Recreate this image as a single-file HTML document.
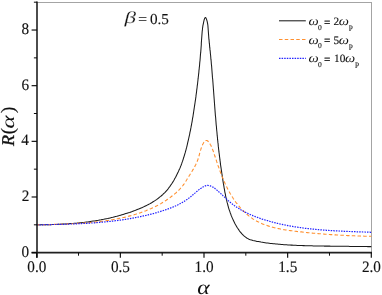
<!DOCTYPE html>
<html><head><meta charset="utf-8"><style>
html,body{margin:0;padding:0;background:#fff;}
body{width:382px;height:295px;overflow:hidden;}
svg{display:block;will-change:transform;}
text{font-family:"Liberation Serif",serif;fill:#111;text-rendering:geometricPrecision;stroke:#111;stroke-width:0.14;}
.i{font-style:italic;}
</style></head><body>
<svg width="382" height="295" viewBox="0 0 382 295">
<rect width="382" height="295" fill="#fff"/>
<g fill="none" stroke="#a4a4a4" stroke-width="1"><line x1="37" y1="2.5" x2="372" y2="2.5"/><line x1="371.5" y1="2.5" x2="371.5" y2="252.6"/></g>
<g fill="none" stroke-linejoin="round">
<path d="M36.7 224.8 L38.0 224.8 L39.4 224.8 L40.7 224.8 L42.1 224.7 L43.4 224.7 L44.8 224.7 L46.1 224.7 L47.5 224.7 L48.8 224.6 L50.2 224.6 L51.5 224.6 L52.9 224.5 L54.2 224.5 L55.6 224.4 L56.9 224.4 L58.3 224.3 L59.6 224.3 L61.0 224.2 L62.3 224.1 L63.7 224.1 L65.0 224.0 L66.3 223.9 L67.7 223.8 L69.0 223.7 L70.4 223.6 L71.7 223.5 L73.1 223.4 L74.4 223.3 L75.7 223.2 L77.1 223.1 L78.4 222.9 L79.7 222.8 L81.1 222.7 L82.4 222.5 L83.8 222.4 L85.1 222.2 L86.4 222.0 L87.8 221.9 L89.1 221.7 L90.4 221.5 L91.7 221.3 L93.1 221.1 L94.4 220.9 L95.7 220.7 L97.0 220.5 L98.4 220.3 L99.7 220.0 L101.0 219.8 L102.3 219.5 L103.6 219.3 L105.0 219.0 L106.3 218.7 L107.6 218.5 L108.9 218.2 L110.2 217.9 L111.5 217.6 L112.8 217.3 L114.1 216.9 L115.4 216.6 L116.7 216.3 L118.0 215.9 L119.3 215.6 L120.6 215.2 L121.9 214.8 L123.2 214.4 L124.5 214.0 L125.8 213.6 L127.1 213.2 L128.4 212.8 L129.7 212.4 L131.0 211.9 L132.2 211.5 L133.5 211.0 L134.8 210.6 L136.1 210.1 L137.3 209.6 L138.6 209.1 L139.9 208.5 L141.1 208.0 L142.4 207.5 L143.6 206.9 L144.8 206.3 L146.0 205.7 L147.2 205.1 L148.4 204.5 L149.6 203.9 L150.8 203.2 L152.0 202.5 L153.1 201.8 L154.2 201.1 L155.4 200.4 L156.5 199.6 L157.5 198.8 L158.6 198.0 L159.6 197.2 L160.7 196.4 L161.7 195.5 L162.7 194.6 L163.6 193.7 L164.6 192.8 L165.5 191.8 L166.4 190.8 L167.3 189.8 L168.1 188.8 L168.9 187.7 L169.8 186.6 L170.5 185.5 L171.3 184.4 L172.1 183.3 L172.8 182.1 L173.5 181.0 L174.2 179.8 L174.8 178.6 L175.5 177.4 L176.1 176.2 L176.7 175.0 L177.3 173.8 L177.9 172.6 L178.5 171.4 L179.0 170.1 L179.6 168.9 L180.1 167.7 L180.6 166.4 L181.1 165.2 L181.6 163.9 L182.0 162.6 L182.5 161.4 L182.9 160.1 L183.3 158.8 L183.7 157.5 L184.1 156.3 L184.5 155.0 L184.9 153.7 L185.3 152.4 L185.6 151.1 L186.0 149.8 L186.3 148.5 L186.7 147.2 L187.0 145.9 L187.3 144.6 L187.6 143.2 L187.9 141.9 L188.2 140.6 L188.5 139.3 L188.8 138.0 L189.1 136.7 L189.4 135.4 L189.7 134.0 L189.9 132.7 L190.2 131.4 L190.5 130.1 L190.7 128.8 L191.0 127.4 L191.2 126.1 L191.5 124.8 L191.7 123.5 L192.0 122.1 L192.2 120.8 L192.4 119.5 L192.6 118.2 L192.9 116.8 L193.1 115.5 L193.3 114.2 L193.5 112.9 L193.7 111.5 L193.9 110.2 L194.1 108.9 L194.3 107.5 L194.5 106.2 L194.7 104.9 L194.9 103.6 L195.1 102.2 L195.3 100.9 L195.5 99.6 L195.7 98.2 L195.9 96.9 L196.0 95.6 L196.2 94.2 L196.4 92.9 L196.6 91.5 L196.7 90.2 L196.9 88.9 L197.1 87.5 L197.2 86.2 L197.4 84.9 L197.6 83.5 L197.7 82.2 L197.9 80.8 L198.0 79.5 L198.2 78.2 L198.3 76.8 L198.5 75.5 L198.6 74.1 L198.8 72.8 L198.9 71.5 L199.0 70.1 L199.2 68.8 L199.3 67.4 L199.5 66.1 L199.6 64.8 L199.7 63.4 L199.8 62.1 L200.0 60.7 L200.1 59.4 L200.2 58.1 L200.3 56.7 L200.4 55.4 L200.5 54.0 L200.7 52.7 L200.8 51.4 L200.9 50.0 L201.0 48.7 L201.1 47.3 L201.2 46.0 L201.3 44.7 L201.3 43.3 L201.4 42.0 L201.5 40.7 L201.6 39.3 L201.7 38.0 L201.8 36.7 L201.9 35.3 L202.0 34.0 L202.1 32.6 L202.2 31.3 L202.4 29.9 L202.5 28.5 L202.7 27.1 L202.9 25.7 L203.2 24.3 L203.5 22.9 L203.8 21.4 L204.1 20.0 L204.5 18.8 L204.9 17.9 L205.3 17.5 L205.8 17.8 L206.2 18.6 L206.7 19.8 L207.1 21.2 L207.4 22.6 L207.7 24.1 L207.9 25.5 L208.0 26.9 L208.1 28.3 L208.2 29.7 L208.3 31.0 L208.4 32.4 L208.5 33.8 L208.6 35.1 L208.7 36.5 L208.8 37.9 L208.9 39.2 L209.1 40.5 L209.2 41.9 L209.3 43.2 L209.5 44.5 L209.6 45.9 L209.7 47.2 L209.9 48.5 L210.0 49.9 L210.2 51.2 L210.3 52.5 L210.4 53.8 L210.6 55.2 L210.7 56.5 L210.8 57.8 L210.9 59.2 L211.1 60.5 L211.2 61.8 L211.3 63.2 L211.4 64.5 L211.6 65.9 L211.7 67.2 L211.8 68.5 L211.9 69.9 L212.0 71.2 L212.1 72.6 L212.2 73.9 L212.3 75.3 L212.4 76.6 L212.5 77.9 L212.7 79.3 L212.8 80.6 L212.9 82.0 L213.0 83.3 L213.1 84.7 L213.2 86.0 L213.3 87.4 L213.4 88.7 L213.5 90.1 L213.6 91.4 L213.7 92.8 L213.8 94.1 L213.9 95.5 L214.0 96.8 L214.1 98.2 L214.2 99.5 L214.3 100.8 L214.4 102.2 L214.5 103.5 L214.6 104.9 L214.7 106.2 L214.8 107.6 L214.9 108.9 L215.0 110.3 L215.1 111.6 L215.2 112.9 L215.3 114.3 L215.4 115.6 L215.6 117.0 L215.7 118.3 L215.8 119.6 L215.9 121.0 L216.0 122.3 L216.1 123.6 L216.2 125.0 L216.4 126.3 L216.5 127.7 L216.6 129.0 L216.7 130.3 L216.9 131.7 L217.0 133.0 L217.1 134.3 L217.2 135.7 L217.4 137.0 L217.5 138.4 L217.6 139.7 L217.8 141.0 L217.9 142.4 L218.1 143.7 L218.2 145.0 L218.3 146.4 L218.5 147.7 L218.6 149.0 L218.8 150.4 L218.9 151.7 L219.1 153.0 L219.3 154.4 L219.4 155.7 L219.6 157.0 L219.8 158.4 L219.9 159.7 L220.1 161.0 L220.3 162.4 L220.4 163.7 L220.6 165.0 L220.8 166.4 L221.0 167.7 L221.2 169.0 L221.4 170.4 L221.6 171.7 L221.8 173.1 L222.0 174.4 L222.2 175.7 L222.4 177.1 L222.6 178.4 L222.8 179.7 L223.0 181.1 L223.2 182.4 L223.4 183.7 L223.7 185.1 L223.9 186.4 L224.1 187.8 L224.4 189.1 L224.6 190.4 L224.8 191.8 L225.1 193.1 L225.4 194.4 L225.6 195.8 L225.9 197.1 L226.2 198.4 L226.5 199.7 L226.8 201.0 L227.1 202.4 L227.5 203.7 L227.8 205.0 L228.2 206.3 L228.5 207.6 L228.9 208.8 L229.3 210.1 L229.8 211.4 L230.2 212.7 L230.7 213.9 L231.1 215.2 L231.6 216.4 L232.1 217.6 L232.7 218.9 L233.2 220.1 L233.8 221.3 L234.4 222.5 L235.0 223.7 L235.6 224.8 L236.3 226.0 L237.0 227.2 L237.7 228.3 L238.5 229.4 L239.2 230.5 L240.0 231.6 L240.9 232.7 L241.7 233.7 L242.7 234.7 L243.6 235.6 L244.6 236.4 L245.6 237.2 L246.7 238.0 L247.9 238.6 L249.0 239.2 L250.3 239.7 L251.6 240.1 L252.9 240.5 L254.2 240.8 L255.6 241.1 L256.9 241.4 L258.3 241.6 L259.7 241.8 L261.0 242.1 L262.4 242.3 L263.7 242.5 L265.1 242.7 L266.4 242.9 L267.8 243.0 L269.1 243.2 L270.5 243.4 L271.8 243.5 L273.2 243.7 L274.5 243.8 L275.9 244.0 L277.2 244.1 L278.6 244.2 L279.9 244.3 L281.2 244.5 L282.6 244.6 L283.9 244.7 L285.2 244.7 L286.6 244.8 L287.9 244.9 L289.3 245.0 L290.6 245.1 L291.9 245.1 L293.3 245.2 L294.6 245.3 L295.9 245.3 L297.3 245.4 L298.6 245.4 L299.9 245.5 L301.3 245.5 L302.6 245.6 L303.9 245.6 L305.3 245.7 L306.6 245.7 L308.0 245.7 L309.3 245.8 L310.6 245.8 L312.0 245.8 L313.3 245.9 L314.7 245.9 L316.0 245.9 L317.4 245.9 L318.7 246.0 L320.1 246.0 L321.4 246.0 L322.8 246.0 L324.1 246.1 L325.5 246.1 L326.8 246.1 L328.2 246.1 L329.5 246.1 L330.9 246.2 L332.2 246.2 L333.6 246.2 L334.9 246.2 L336.3 246.2 L337.6 246.2 L339.0 246.3 L340.3 246.3 L341.7 246.3 L343.1 246.3 L344.4 246.3 L345.8 246.3 L347.1 246.3 L348.5 246.3 L349.8 246.4 L351.2 246.4 L352.5 246.4 L353.9 246.4 L355.2 246.4 L356.5 246.4 L357.9 246.4 L359.2 246.5 L360.6 246.5 L361.9 246.5 L363.3 246.5 L364.6 246.5 L365.9 246.5 L367.3 246.6 L368.6 246.6 L370.0 246.6 L371.3 246.6" stroke="#1a1a1a" stroke-width="1.05"/>
<path d="M36.7 224.9 L37.5 224.9 L38.4 224.9 L39.2 224.8 L40.1 224.8 L40.9 224.8 L41.8 224.8 L42.6 224.7 L43.5 224.7 L44.3 224.7 L45.1 224.7 L46.0 224.6 L46.8 224.6 L47.7 224.6 L48.5 224.6 L49.4 224.5 L50.2 224.5 L51.1 224.5 L51.9 224.5 L52.8 224.4 L53.6 224.4 L54.4 224.4 L55.3 224.4 L56.1 224.3 L57.0 224.3 L57.8 224.3 L58.7 224.3 L59.5 224.2 L60.4 224.2 L61.2 224.2 L62.1 224.2 L62.9 224.1 L63.8 224.1 L64.6 224.1 L65.4 224.0 L66.3 224.0 L67.1 224.0 L68.0 223.9 L68.8 223.9 L69.7 223.9 L70.5 223.8 L71.4 223.8 L72.2 223.7 L73.0 223.7 L73.9 223.7 L74.7 223.6 L75.6 223.6 L76.4 223.5 L77.3 223.5 L78.1 223.4 L79.0 223.4 L79.8 223.3 L80.6 223.3 L81.5 223.2 L82.3 223.2 L83.2 223.1 L84.0 223.0 L84.9 223.0 L85.7 222.9 L86.5 222.9 L87.4 222.8 L88.2 222.7 L89.1 222.6 L89.9 222.6 L90.8 222.5 L91.6 222.4 L92.4 222.3 L93.3 222.3 L94.1 222.2 L95.0 222.1 L95.8 222.0 L96.6 221.9 L97.5 221.8 L98.3 221.7 L99.2 221.6 L100.0 221.5 L100.8 221.4 L101.7 221.3 L102.5 221.2 L103.3 221.1 L104.2 221.0 L105.0 220.9 L105.8 220.7 L106.7 220.6 L107.5 220.5 L108.4 220.4 L109.2 220.2 L110.0 220.1 L110.9 220.0 L111.7 219.8 L112.5 219.7 L113.4 219.5 L114.2 219.4 L115.0 219.2 L115.9 219.1 L116.7 218.9 L117.5 218.8 L118.4 218.6 L119.2 218.4 L120.0 218.3 L120.8 218.1 L121.7 217.9 L122.5 217.7 L123.3 217.5 L124.2 217.4 L125.0 217.2 L125.8 217.0 L126.6 216.8 L127.5 216.6 L128.3 216.3 L129.1 216.1 L129.9 215.9 L130.7 215.7 L131.6 215.5 L132.4 215.2 L133.2 215.0 L134.0 214.8 L134.8 214.5 L135.6 214.3 L136.4 214.0 L137.2 213.8 L138.1 213.5 L138.9 213.3 L139.7 213.0 L140.5 212.7 L141.3 212.4 L142.1 212.1 L142.9 211.9 L143.6 211.6 L144.4 211.3 L145.2 211.0 L146.0 210.7 L146.8 210.3 L147.6 210.0 L148.4 209.7 L149.1 209.4 L149.9 209.0 L150.7 208.7 L151.5 208.4 L152.2 208.0 L153.0 207.7 L153.7 207.3 L154.5 206.9 L155.3 206.6 L156.0 206.2 L156.8 205.8 L157.5 205.4 L158.3 205.0 L159.0 204.6 L159.7 204.2 L160.5 203.8 L161.2 203.4 L161.9 202.9 L162.6 202.5 L163.4 202.1 L164.1 201.6 L164.8 201.2 L165.5 200.7 L166.2 200.3 L166.9 199.8 L167.6 199.3 L168.3 198.8 L169.0 198.3 L169.7 197.9 L170.4 197.4 L171.0 196.8 L171.7 196.3 L172.4 195.8 L173.1 195.3 L173.7 194.7 L174.4 194.2 L175.0 193.6 L175.7 193.1 L176.3 192.5 L176.9 192.0 L177.5 191.4 L178.2 190.8 L178.8 190.2 L179.4 189.6 L179.9 189.0 L180.5 188.3 L181.1 187.7 L181.6 187.1 L182.1 186.4 L182.7 185.8 L183.2 185.1 L183.7 184.4 L184.2 183.8 L184.6 183.1 L185.1 182.4 L185.5 181.7 L186.0 181.0 L186.4 180.3 L186.9 179.5 L187.3 178.8 L187.8 178.1 L188.2 177.4 L188.7 176.6 L189.1 175.9 L189.6 175.2 L190.0 174.5 L190.5 173.7 L190.9 173.0 L191.4 172.3 L191.8 171.6 L192.3 170.8 L192.7 170.1 L193.2 169.4 L193.6 168.6 L194.0 167.9 L194.4 167.1 L194.9 166.4 L195.2 165.6 L195.6 164.9 L196.0 164.1 L196.4 163.4 L196.7 162.6 L197.0 161.8 L197.3 161.1 L197.6 160.3 L197.9 159.5 L198.1 158.8 L198.4 158.0 L198.6 157.2 L198.8 156.4 L199.1 155.6 L199.3 154.8 L199.5 154.0 L199.7 153.2 L199.9 152.4 L200.2 151.5 L200.4 150.7 L200.7 149.9 L200.9 149.1 L201.2 148.2 L201.5 147.4 L201.8 146.5 L202.2 145.7 L202.5 144.8 L202.9 144.0 L203.4 143.2 L203.8 142.4 L204.3 141.7 L204.8 141.2 L205.4 140.7 L206.0 140.5 L206.6 140.5 L207.2 140.6 L207.7 141.0 L208.3 141.5 L208.9 142.2 L209.4 142.9 L209.9 143.7 L210.3 144.5 L210.8 145.3 L211.2 146.1 L211.5 146.9 L211.9 147.7 L212.2 148.5 L212.5 149.3 L212.8 150.0 L213.1 150.8 L213.4 151.6 L213.6 152.4 L213.9 153.2 L214.1 154.0 L214.4 154.8 L214.7 155.5 L214.9 156.3 L215.2 157.1 L215.5 157.9 L215.7 158.7 L216.0 159.5 L216.3 160.3 L216.6 161.1 L216.8 161.9 L217.1 162.7 L217.4 163.5 L217.7 164.4 L217.9 165.2 L218.2 166.0 L218.5 166.8 L218.8 167.6 L219.1 168.4 L219.4 169.2 L219.6 170.0 L219.9 170.8 L220.2 171.6 L220.5 172.4 L220.8 173.2 L221.1 174.0 L221.4 174.8 L221.8 175.6 L222.1 176.4 L222.4 177.1 L222.7 177.9 L223.0 178.7 L223.3 179.5 L223.7 180.3 L224.0 181.0 L224.3 181.8 L224.7 182.6 L225.0 183.4 L225.4 184.1 L225.7 184.9 L226.1 185.6 L226.4 186.4 L226.8 187.1 L227.2 187.9 L227.5 188.6 L227.9 189.4 L228.3 190.1 L228.7 190.8 L229.1 191.6 L229.5 192.3 L229.9 193.0 L230.3 193.7 L230.8 194.5 L231.2 195.2 L231.6 195.9 L232.1 196.6 L232.5 197.3 L233.0 198.0 L233.4 198.7 L233.9 199.4 L234.4 200.1 L234.8 200.8 L235.3 201.5 L235.8 202.2 L236.3 202.9 L236.9 203.5 L237.4 204.2 L237.9 204.9 L238.5 205.6 L239.0 206.2 L239.6 206.9 L240.1 207.5 L240.7 208.2 L241.3 208.8 L241.9 209.5 L242.5 210.1 L243.1 210.7 L243.7 211.3 L244.3 211.9 L244.9 212.5 L245.6 213.1 L246.2 213.7 L246.8 214.3 L247.5 214.8 L248.2 215.4 L248.8 215.9 L249.5 216.4 L250.2 216.9 L250.9 217.4 L251.5 217.9 L252.2 218.4 L252.9 218.9 L253.6 219.3 L254.4 219.7 L255.1 220.2 L255.8 220.6 L256.5 221.0 L257.3 221.4 L258.0 221.8 L258.7 222.1 L259.5 222.5 L260.2 222.9 L261.0 223.2 L261.8 223.5 L262.5 223.9 L263.3 224.2 L264.1 224.5 L264.8 224.8 L265.6 225.1 L266.4 225.3 L267.2 225.6 L268.0 225.9 L268.8 226.1 L269.6 226.4 L270.4 226.6 L271.2 226.8 L272.0 227.1 L272.8 227.3 L273.6 227.5 L274.4 227.7 L275.3 227.9 L276.1 228.1 L276.9 228.3 L277.7 228.5 L278.6 228.6 L279.4 228.8 L280.2 229.0 L281.1 229.1 L281.9 229.3 L282.7 229.4 L283.6 229.6 L284.4 229.7 L285.3 229.9 L286.1 230.0 L286.9 230.1 L287.8 230.3 L288.6 230.4 L289.5 230.5 L290.3 230.6 L291.2 230.7 L292.0 230.8 L292.9 231.0 L293.7 231.1 L294.6 231.2 L295.4 231.3 L296.3 231.4 L297.1 231.5 L298.0 231.6 L298.8 231.7 L299.6 231.8 L300.5 231.9 L301.3 231.9 L302.2 232.0 L303.0 232.1 L303.9 232.2 L304.7 232.3 L305.6 232.4 L306.4 232.5 L307.2 232.6 L308.1 232.7 L308.9 232.7 L309.8 232.8 L310.6 232.9 L311.5 233.0 L312.3 233.1 L313.1 233.2 L314.0 233.2 L314.8 233.3 L315.7 233.4 L316.5 233.5 L317.3 233.5 L318.2 233.6 L319.0 233.7 L319.9 233.7 L320.7 233.8 L321.5 233.9 L322.4 234.0 L323.2 234.0 L324.1 234.1 L324.9 234.2 L325.7 234.2 L326.6 234.3 L327.4 234.3 L328.3 234.4 L329.1 234.5 L329.9 234.5 L330.8 234.6 L331.6 234.6 L332.4 234.7 L333.3 234.8 L334.1 234.8 L335.0 234.9 L335.8 234.9 L336.6 235.0 L337.5 235.0 L338.3 235.1 L339.2 235.1 L340.0 235.2 L340.8 235.2 L341.7 235.3 L342.5 235.3 L343.4 235.3 L344.2 235.4 L345.0 235.4 L345.9 235.5 L346.7 235.5 L347.6 235.6 L348.4 235.6 L349.3 235.6 L350.1 235.7 L350.9 235.7 L351.8 235.7 L352.6 235.8 L353.5 235.8 L354.3 235.8 L355.2 235.9 L356.0 235.9 L356.9 235.9 L357.7 236.0 L358.6 236.0 L359.4 236.0 L360.3 236.0 L361.1 236.1 L361.9 236.1 L362.8 236.1 L363.6 236.1 L364.5 236.2 L365.4 236.2 L366.2 236.2 L367.1 236.2 L367.9 236.2 L368.8 236.3 L369.6 236.3 L370.5 236.3 L371.3 236.3" stroke="#ff9030" stroke-width="1.1" stroke-dasharray="3.5 2.25"/>
<path d="M36.7 224.9 L37.4 224.9 L38.1 224.9 L38.8 224.8 L39.6 224.8 L40.3 224.8 L41.0 224.8 L41.7 224.8 L42.4 224.8 L43.1 224.7 L43.8 224.7 L44.5 224.7 L45.2 224.7 L45.9 224.7 L46.6 224.7 L47.4 224.7 L48.1 224.6 L48.8 224.6 L49.5 224.6 L50.2 224.6 L50.9 224.6 L51.6 224.6 L52.3 224.5 L53.0 224.5 L53.7 224.5 L54.5 224.5 L55.2 224.5 L55.9 224.5 L56.6 224.4 L57.3 224.4 L58.0 224.4 L58.7 224.4 L59.4 224.4 L60.1 224.4 L60.9 224.3 L61.6 224.3 L62.3 224.3 L63.0 224.3 L63.7 224.3 L64.4 224.2 L65.1 224.2 L65.8 224.2 L66.5 224.2 L67.3 224.1 L68.0 224.1 L68.7 224.1 L69.4 224.1 L70.1 224.1 L70.8 224.0 L71.5 224.0 L72.2 224.0 L73.0 223.9 L73.7 223.9 L74.4 223.9 L75.1 223.9 L75.8 223.8 L76.5 223.8 L77.2 223.8 L77.9 223.7 L78.7 223.7 L79.4 223.7 L80.1 223.6 L80.8 223.6 L81.5 223.6 L82.2 223.5 L82.9 223.5 L83.6 223.5 L84.3 223.4 L85.1 223.4 L85.8 223.3 L86.5 223.3 L87.2 223.3 L87.9 223.2 L88.6 223.2 L89.3 223.1 L90.0 223.1 L90.7 223.0 L91.5 223.0 L92.2 223.0 L92.9 222.9 L93.6 222.9 L94.3 222.8 L95.0 222.8 L95.7 222.7 L96.4 222.6 L97.1 222.6 L97.8 222.5 L98.6 222.5 L99.3 222.4 L100.0 222.4 L100.7 222.3 L101.4 222.2 L102.1 222.2 L102.8 222.1 L103.5 222.0 L104.2 222.0 L104.9 221.9 L105.6 221.8 L106.4 221.8 L107.1 221.7 L107.8 221.6 L108.5 221.6 L109.2 221.5 L109.9 221.4 L110.6 221.3 L111.3 221.2 L112.0 221.2 L112.7 221.1 L113.4 221.0 L114.1 220.9 L114.8 220.8 L115.5 220.7 L116.2 220.7 L116.9 220.6 L117.6 220.5 L118.4 220.4 L119.1 220.3 L119.8 220.2 L120.5 220.1 L121.2 220.0 L121.9 219.9 L122.6 219.8 L123.3 219.7 L124.0 219.6 L124.7 219.5 L125.4 219.4 L126.1 219.3 L126.8 219.2 L127.5 219.0 L128.2 218.9 L128.9 218.8 L129.6 218.7 L130.3 218.6 L131.0 218.4 L131.7 218.3 L132.4 218.2 L133.1 218.1 L133.8 217.9 L134.5 217.8 L135.2 217.7 L135.9 217.5 L136.6 217.4 L137.3 217.3 L138.0 217.1 L138.6 217.0 L139.3 216.8 L140.0 216.7 L140.7 216.6 L141.4 216.4 L142.1 216.3 L142.8 216.1 L143.5 215.9 L144.2 215.8 L144.9 215.6 L145.6 215.5 L146.3 215.3 L147.0 215.1 L147.7 215.0 L148.3 214.8 L149.0 214.6 L149.7 214.5 L150.4 214.3 L151.1 214.1 L151.8 213.9 L152.5 213.7 L153.2 213.6 L153.9 213.4 L154.5 213.2 L155.2 213.0 L155.9 212.8 L156.6 212.6 L157.3 212.4 L158.0 212.2 L158.6 212.0 L159.3 211.8 L160.0 211.6 L160.7 211.4 L161.4 211.2 L162.1 211.0 L162.7 210.8 L163.4 210.5 L164.1 210.3 L164.8 210.1 L165.4 209.9 L166.1 209.6 L166.8 209.4 L167.5 209.2 L168.1 208.9 L168.8 208.7 L169.5 208.4 L170.1 208.2 L170.8 207.9 L171.5 207.6 L172.1 207.4 L172.8 207.1 L173.4 206.8 L174.1 206.6 L174.7 206.3 L175.4 206.0 L176.0 205.7 L176.7 205.4 L177.3 205.1 L178.0 204.8 L178.6 204.5 L179.2 204.1 L179.8 203.8 L180.5 203.5 L181.1 203.1 L181.7 202.8 L182.3 202.4 L182.9 202.1 L183.5 201.7 L184.1 201.4 L184.7 201.0 L185.3 200.6 L185.9 200.2 L186.5 199.8 L187.1 199.4 L187.7 199.0 L188.3 198.6 L188.8 198.1 L189.4 197.7 L189.9 197.3 L190.5 196.8 L191.1 196.4 L191.6 195.9 L192.2 195.4 L192.7 195.0 L193.2 194.5 L193.8 194.0 L194.3 193.6 L194.9 193.1 L195.4 192.6 L196.0 192.1 L196.5 191.7 L197.1 191.2 L197.6 190.8 L198.2 190.3 L198.7 189.9 L199.3 189.4 L199.9 189.0 L200.5 188.6 L201.1 188.2 L201.7 187.7 L202.3 187.4 L202.9 187.0 L203.5 186.7 L204.1 186.3 L204.8 186.1 L205.4 185.8 L206.0 185.7 L206.6 185.5 L207.3 185.4 L207.9 185.4 L208.5 185.5 L209.2 185.6 L209.8 185.7 L210.4 185.9 L211.0 186.2 L211.7 186.4 L212.3 186.8 L212.9 187.1 L213.5 187.5 L214.1 187.9 L214.7 188.3 L215.3 188.8 L215.9 189.2 L216.5 189.7 L217.0 190.2 L217.6 190.7 L218.2 191.2 L218.7 191.7 L219.3 192.2 L219.8 192.7 L220.4 193.2 L220.9 193.7 L221.5 194.2 L222.0 194.7 L222.5 195.2 L223.0 195.7 L223.6 196.2 L224.1 196.7 L224.6 197.2 L225.1 197.7 L225.6 198.2 L226.2 198.7 L226.7 199.2 L227.2 199.7 L227.7 200.2 L228.2 200.6 L228.8 201.1 L229.3 201.6 L229.8 202.0 L230.4 202.5 L230.9 202.9 L231.4 203.4 L232.0 203.8 L232.5 204.2 L233.1 204.7 L233.7 205.1 L234.2 205.5 L234.8 205.9 L235.4 206.3 L235.9 206.7 L236.5 207.1 L237.1 207.5 L237.7 207.9 L238.3 208.2 L238.9 208.6 L239.5 209.0 L240.1 209.3 L240.7 209.7 L241.3 210.1 L241.9 210.4 L242.6 210.7 L243.2 211.1 L243.8 211.4 L244.4 211.7 L245.1 212.1 L245.7 212.4 L246.3 212.7 L247.0 213.0 L247.6 213.3 L248.2 213.6 L248.9 213.9 L249.5 214.2 L250.2 214.5 L250.8 214.8 L251.5 215.1 L252.2 215.3 L252.8 215.6 L253.5 215.9 L254.1 216.1 L254.8 216.4 L255.5 216.7 L256.1 216.9 L256.8 217.2 L257.5 217.4 L258.2 217.7 L258.8 217.9 L259.5 218.1 L260.2 218.4 L260.9 218.6 L261.5 218.8 L262.2 219.1 L262.9 219.3 L263.6 219.5 L264.3 219.7 L264.9 219.9 L265.6 220.1 L266.3 220.3 L267.0 220.5 L267.7 220.7 L268.4 220.9 L269.1 221.1 L269.7 221.3 L270.4 221.5 L271.1 221.7 L271.8 221.9 L272.5 222.1 L273.2 222.3 L273.9 222.5 L274.6 222.6 L275.3 222.8 L275.9 223.0 L276.6 223.1 L277.3 223.3 L278.0 223.5 L278.7 223.6 L279.4 223.8 L280.1 224.0 L280.8 224.1 L281.5 224.3 L282.2 224.4 L282.9 224.6 L283.6 224.7 L284.3 224.9 L285.0 225.0 L285.7 225.1 L286.4 225.3 L287.1 225.4 L287.7 225.6 L288.4 225.7 L289.1 225.8 L289.8 225.9 L290.5 226.1 L291.2 226.2 L291.9 226.3 L292.6 226.4 L293.3 226.6 L294.0 226.7 L294.7 226.8 L295.4 226.9 L296.1 227.0 L296.8 227.1 L297.5 227.2 L298.2 227.3 L298.9 227.4 L299.7 227.5 L300.4 227.6 L301.1 227.7 L301.8 227.8 L302.5 227.9 L303.2 228.0 L303.9 228.1 L304.6 228.2 L305.3 228.3 L306.0 228.4 L306.7 228.5 L307.4 228.5 L308.1 228.6 L308.8 228.7 L309.5 228.8 L310.2 228.9 L310.9 228.9 L311.6 229.0 L312.3 229.1 L313.1 229.2 L313.8 229.2 L314.5 229.3 L315.2 229.4 L315.9 229.4 L316.6 229.5 L317.3 229.6 L318.0 229.6 L318.7 229.7 L319.4 229.8 L320.1 229.8 L320.8 229.9 L321.6 229.9 L322.3 230.0 L323.0 230.0 L323.7 230.1 L324.4 230.1 L325.1 230.2 L325.8 230.2 L326.5 230.3 L327.2 230.3 L327.9 230.4 L328.7 230.4 L329.4 230.5 L330.1 230.5 L330.8 230.6 L331.5 230.6 L332.2 230.7 L332.9 230.7 L333.6 230.7 L334.3 230.8 L335.0 230.8 L335.8 230.9 L336.5 230.9 L337.2 230.9 L337.9 231.0 L338.6 231.0 L339.3 231.0 L340.0 231.1 L340.7 231.1 L341.5 231.1 L342.2 231.2 L342.9 231.2 L343.6 231.2 L344.3 231.3 L345.0 231.3 L345.7 231.3 L346.4 231.4 L347.1 231.4 L347.9 231.4 L348.6 231.5 L349.3 231.5 L350.0 231.5 L350.7 231.5 L351.4 231.6 L352.1 231.6 L352.8 231.6 L353.5 231.6 L354.3 231.7 L355.0 231.7 L355.7 231.7 L356.4 231.7 L357.1 231.8 L357.8 231.8 L358.5 231.8 L359.2 231.8 L359.9 231.9 L360.7 231.9 L361.4 231.9 L362.1 231.9 L362.8 232.0 L363.5 232.0 L364.2 232.0 L364.9 232.0 L365.6 232.1 L366.3 232.1 L367.0 232.1 L367.7 232.1 L368.5 232.2 L369.2 232.2 L369.9 232.2 L370.6 232.3 L371.3 232.3" stroke="#2222ff" stroke-width="1.2" stroke-dasharray="1.5 1.1"/>
</g>
<g stroke="#202020" stroke-width="1.6" fill="none">
<line x1="37.00" y1="1.5" x2="37.00" y2="257.8"/>
<line x1="31.6" y1="252.65" x2="372" y2="252.65"/>
</g>
<g stroke="#0a0a0a" stroke-width="1.15" fill="none"><line x1="36.70" y1="252.65" x2="36.70" y2="257.80"/><line x1="120.35" y1="252.65" x2="120.35" y2="257.80"/><line x1="204.00" y1="252.65" x2="204.00" y2="257.80"/><line x1="287.65" y1="252.65" x2="287.65" y2="257.80"/><line x1="371.30" y1="252.65" x2="371.30" y2="257.80"/><line x1="31.60" y1="252.65" x2="37.00" y2="252.65"/><line x1="31.60" y1="196.99" x2="37.00" y2="196.99"/><line x1="31.60" y1="141.34" x2="37.00" y2="141.34"/><line x1="31.60" y1="85.68" x2="37.00" y2="85.68"/><line x1="31.60" y1="30.03" x2="37.00" y2="30.03"/></g>
<g stroke="#0a0a0a" stroke-width="1.0" fill="none"><line x1="78.53" y1="252.65" x2="78.53" y2="255.70"/><line x1="162.18" y1="252.65" x2="162.18" y2="255.70"/><line x1="245.82" y1="252.65" x2="245.82" y2="255.70"/><line x1="329.48" y1="252.65" x2="329.48" y2="255.70"/><line x1="33.90" y1="224.82" x2="37.00" y2="224.82"/><line x1="33.90" y1="169.17" x2="37.00" y2="169.17"/><line x1="33.90" y1="113.51" x2="37.00" y2="113.51"/><line x1="33.90" y1="57.86" x2="37.00" y2="57.86"/><line x1="33.90" y1="2.20" x2="37.00" y2="2.20"/></g>
<text transform="translate(36.80,272.2) scale(0.95,1)" font-size="16" text-anchor="middle">0.0</text><text transform="translate(120.45,272.2) scale(0.95,1)" font-size="16" text-anchor="middle">0.5</text><text transform="translate(204.10,272.2) scale(0.95,1)" font-size="16" text-anchor="middle">1.0</text><text transform="translate(287.75,272.2) scale(0.95,1)" font-size="16" text-anchor="middle">1.5</text><text transform="translate(371.40,272.2) scale(0.95,1)" font-size="16" text-anchor="middle">2.0</text><text transform="translate(21.58,256.55) scale(0.950,1)" font-size="16.00">0</text><text transform="translate(21.84,200.89) scale(0.950,1)" font-size="16.00">2</text><text transform="translate(21.24,145.24) scale(0.950,1)" font-size="16.00">4</text><text transform="translate(21.45,89.58) scale(0.950,1)" font-size="16.00">6</text><text transform="translate(21.58,33.93) scale(0.950,1)" font-size="16.00">8</text><text transform="translate(124.57,23.40) scale(1.380,1)" font-size="16.80" class="i" style="stroke:#fff;stroke-width:0.14">β</text><text transform="translate(137.98,23.90) scale(1.080,1)" font-size="15.20" style="stroke:none">=</text><text x="149.92" y="23.80" font-size="15.20">0.5</text><text transform="translate(197.30,293.90) scale(1.170,1)" font-size="20.20" class="i" style="stroke:none">α</text><g transform="translate(13.8,146.2) rotate(-90)"><text x="0.10" y="0.00" font-size="18.00" class="i" style="stroke-width:0.3">R</text><text x="11.87" y="0.00" font-size="19.00">(</text><text transform="translate(17.34,0.00) scale(1.400,1)" font-size="18.20" class="i" style="stroke:#fff;stroke-width:0.06">α</text><text x="33.09" y="0.00" font-size="19.00">)</text></g>
<g fill="none"><line x1="279" y1="20.80" x2="305.8" y2="20.80" stroke="#1a1a1a" stroke-width="1.05"/><text transform="translate(308.62,25.10) scale(1.150,1)" font-size="12.50" class="i" style="stroke:none">ω</text><text x="318.01" y="29.70" font-size="7.50">0</text><text x="324.04" y="26.00" font-size="11.30">=</text><text x="333.60" y="25.10" font-size="11.30">2</text><text transform="translate(338.72,25.10) scale(1.150,1)" font-size="12.50" class="i" style="stroke:none">ω</text><text x="349.08" y="29.30" font-size="7.50">p</text><line x1="279" y1="39.50" x2="305.8" y2="39.50" stroke="#ff9030" stroke-width="1.10" stroke-dasharray="3.5 2.25"/><text transform="translate(308.62,43.50) scale(1.150,1)" font-size="12.50" class="i" style="stroke:none">ω</text><text x="318.01" y="48.10" font-size="7.50">0</text><text x="324.04" y="44.40" font-size="11.30">=</text><text x="333.44" y="43.50" font-size="11.30">5</text><text transform="translate(338.72,43.50) scale(1.150,1)" font-size="12.50" class="i" style="stroke:none">ω</text><text x="349.08" y="47.70" font-size="7.50">p</text><line x1="279" y1="58.30" x2="305.8" y2="58.30" stroke="#2222ff" stroke-width="1.20" stroke-dasharray="1.5 1.1"/><text transform="translate(308.62,62.10) scale(1.150,1)" font-size="12.50" class="i" style="stroke:none">ω</text><text x="318.01" y="66.70" font-size="7.50">0</text><text x="324.04" y="63.00" font-size="11.30">=</text><text x="334.11" y="62.10" font-size="11.30">10</text><text transform="translate(345.02,62.10) scale(1.150,1)" font-size="12.50" class="i" style="stroke:none">ω</text><text x="355.18" y="66.30" font-size="7.50">p</text></g>
</svg>
</body></html>
